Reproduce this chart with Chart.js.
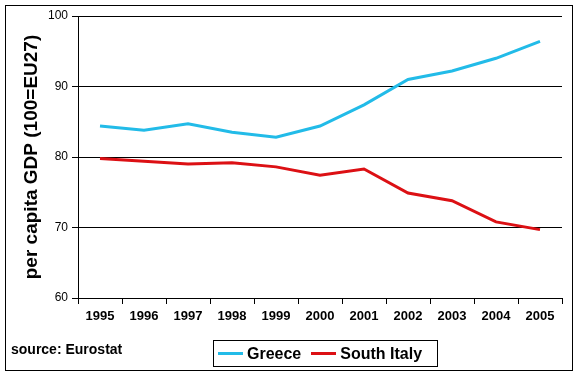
<!DOCTYPE html>
<html lang="en">
<head>
  <meta charset="UTF-8">
  <title>Per capita GDP: Greece vs South Italy</title>
  <script src="https://cdn.jsdelivr.net/npm/chart.js"></script>
  <style>
    body {
      margin: 0;
      padding: 0;
      background: white;
      font-family: Arial, "Liberation Sans", sans-serif;
    }
    #wrap {
      position: relative;
      width: 577px;
      height: 375px;
    }
    #frame {
      position: absolute;
      left: 5px;
      top: 5px;
      width: 568px;
      height: 366px;
      border: 1px solid black;
      box-sizing: border-box;
    }
    #chart {
      position: absolute;
      left: 0;
      top: 0;
    }
    #source {
      position: absolute;
      left: 11px;
      top: 341px;
      font-size: 14px;
      font-weight: bold;
      color: black;
    }
    #legend {
      position: absolute;
      left: 213px;
      top: 340px;
      width: 225px;
      height: 27px;
      border: 1px solid black;
      box-sizing: border-box;
      display: flex;
      align-items: center;
      padding-left: 4px;
      font-size: 16px;
      font-weight: bold;
    }
    .item {
      display: flex;
      align-items: center;
      margin-right: 10px;
    }
    .swatch {
      width: 25px;
      height: 3px;
      margin-right: 4px;
    }
  </style>
</head>
<body>

<div id="wrap">
  <div id="frame"></div>
  <canvas id="chart" width="577" height="375"></canvas>
  <div id="source">source: Eurostat</div>
  <div id="legend"></div>
</div>

<script>
  // values
  const years = ["1995", "1996", "1997", "1998", "1999", "2000", "2001", "2002", "2003", "2004", "2005"];
  const greece = [84.4, 83.8, 84.7, 83.5, 82.8, 84.4, 87.4, 91.0, 92.2, 94.0, 96.4];
  const southItaly = [79.8, 79.4, 79.0, 79.2, 78.6, 77.4, 78.3, 74.9, 73.8, 70.8, 69.7];
  const seriesNames = ["Greece", "South Italy"];
  const seriesColors = ["#22bbe8", "#dc1014"];

  // html legend
  const legend = document.getElementById("legend");
  seriesNames.forEach((name, i) => {
    const item = document.createElement("div");
    item.className = "item";
    item.innerHTML = `<span class="swatch" style="background:${seriesColors[i]}"></span>${name}`;
    legend.appendChild(item);
  });

  const ctx = document.getElementById("chart").getContext("2d");

  new Chart(ctx, {
    type: "line",
    data: {
      labels: years,
      datasets: [
        {
          label: seriesNames[0],
          data: greece,
          borderColor: seriesColors[0],
          borderWidth: 3,
          pointRadius: 0,
          tension: 0,
          fill: false
        },
        {
          label: seriesNames[1],
          data: southItaly,
          borderColor: seriesColors[1],
          borderWidth: 3,
          pointRadius: 0,
          tension: 0,
          fill: false
        }
      ]
    },
    options: {
      responsive: false,
      animation: false,
      devicePixelRatio: 1,
      layout: {
        padding: { left: 0, right: 15, top: 16, bottom: 37 }
      },
      plugins: {
        legend: { display: false },
        tooltip: { enabled: false }
      },
      scales: {
        x: {
          offset: true,
          afterFit: (scale) => { scale.height = 40; },
          grid: {
            offset: true,
            drawOnChartArea: false,
            drawTicks: true,
            tickLength: 6,
            color: "black"
          },
          border: { display: true, color: "black", width: 1 },
          ticks: {
            color: "black",
            padding: 5,
            maxRotation: 0,
            font: { family: "Arial", size: 13, weight: "bold" }
          }
        },
        y: {
          min: 60,
          max: 100,
          afterFit: (scale) => { scale.width = 78; },
          grid: {
            color: "black",
            tickLength: 6,
            lineWidth: 1
          },
          border: { display: true, color: "black", width: 1 },
          ticks: {
            stepSize: 10,
            color: "black",
            padding: 4,
            font: { family: "Arial", size: 12 }
          },
          title: {
            display: true,
            text: "per capita GDP (100=EU27)",
            color: "black",
            padding: { top: 20, bottom: 0 },
            font: { family: "Arial", size: 19, weight: "bold" }
          }
        }
      }
    }
  });
</script>

</body>
</html>
